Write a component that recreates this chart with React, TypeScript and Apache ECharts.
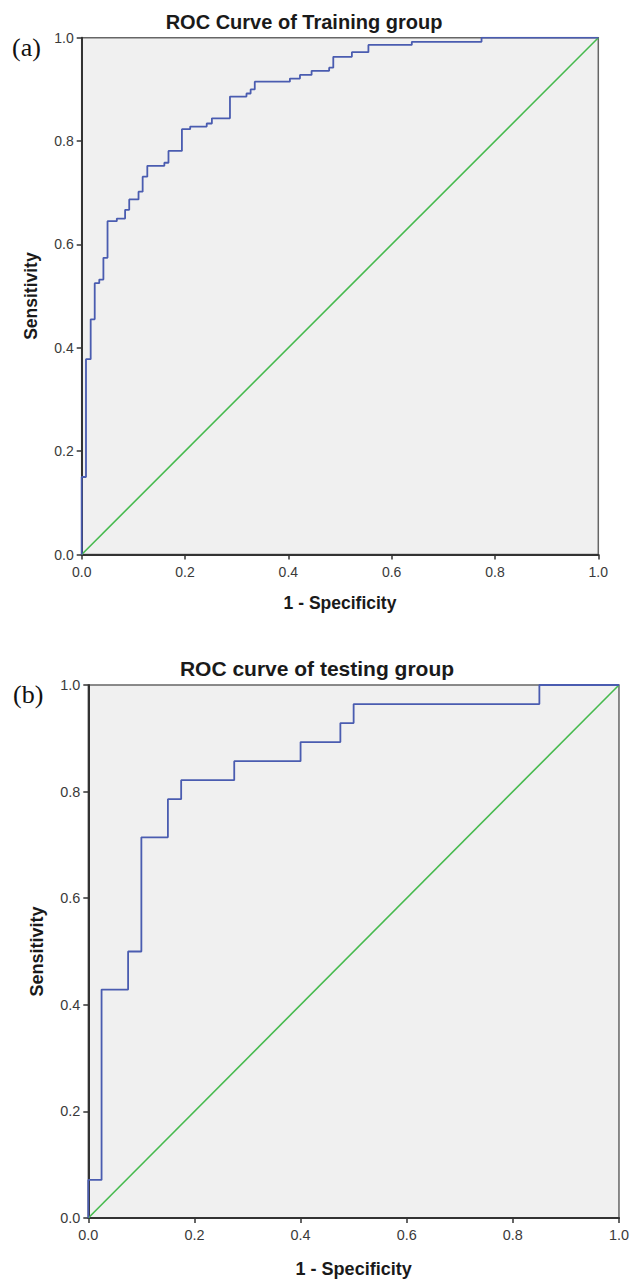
import React, { useEffect, useRef } from 'react';
import * as echarts from 'echarts';

// ---------- data ----------
const AXIS_MIN = 0;
const AXIS_MAX = 1;
const AXIS_STEP = 0.2;

const TITLE_TRAIN = 'ROC Curve of Training group';
const TITLE_TEST = 'ROC curve of testing group';
const PANEL_A = '(a)';
const PANEL_B = '(b)';
const X_NAME = '1 - Specificity';
const Y_NAME = 'Sensitivity';

// Training group ROC (top of each vertical step, drawn with step: 'end')
const TRAIN_FPR = [0, 0, 0.0083, 0.0174, 0.0252, 0.034, 0.042, 0.05, 0.068, 0.084, 0.092, 0.11, 0.118, 0.127, 0.16, 0.168, 0.194, 0.21, 0.242, 0.252, 0.287, 0.319, 0.327, 0.335, 0.403, 0.4225, 0.445, 0.479, 0.487, 0.523, 0.555, 0.639, 0.774, 1.0];
const TRAIN_TPR = [0, 0.15, 0.378, 0.455, 0.525, 0.532, 0.574, 0.645, 0.65, 0.667, 0.687, 0.702, 0.731, 0.752, 0.758, 0.781, 0.823, 0.828, 0.834, 0.844, 0.886, 0.892, 0.9, 0.915, 0.921, 0.928, 0.936, 0.942, 0.963, 0.972, 0.986, 0.992, 1.0, 1.0];

// Testing group ROC
const TEST_FPR = [0, 0, 0.025, 0.075, 0.1, 0.15, 0.175, 0.275, 0.4, 0.475, 0.5, 0.85, 1.0];
const TEST_TPR = [0, 0.0714, 0.4286, 0.5, 0.7143, 0.7857, 0.8214, 0.8571, 0.8929, 0.9286, 0.9643, 1.0, 1.0];

// Reference (chance) line
const REF_FPR = [0, 1];
const REF_TPR = [0, 1];

const zip = (xs: number[], ys: number[]) => xs.map((x, i) => [x, ys[i]]);

const FONT = 'Liberation Sans, Arial, sans-serif';
const SERIF = 'Liberation Serif, Times New Roman, serif';
const BLUE = '#4a5cb0';
const GREEN = '#46ba4e';

function axisCommon(scale: number, name: string, gap: number, labelMargin: number) {
  return {
    type: 'value' as const,
    min: AXIS_MIN,
    max: AXIS_MAX,
    interval: AXIS_STEP,
    name,
    nameLocation: 'middle' as const,
    nameGap: gap,
    nameTextStyle: {
      fontFamily: FONT,
      fontWeight: 'bold' as const,
      fontSize: 17.5 * scale,
      color: '#1a1a1a',
    },
    axisLine: { show: true, onZero: false, lineStyle: { color: '#333', width: 2 } },
    axisTick: { show: true, inside: false, length: 5, lineStyle: { color: '#333', width: 1.5 } },
    axisLabel: {
      fontFamily: FONT,
      fontSize: 14 * scale,
      color: '#3a3a3a',
      margin: labelMargin,
      formatter: (v: number) => v.toFixed(1),
    },
    splitLine: { show: false },
  };
}

export default function App() {
  const ref = useRef<HTMLDivElement>(null);

  useEffect(() => {
    if (!ref.current) return;
    const chart = echarts.init(ref.current, undefined, { renderer: 'svg' });

    const g1 = { left: 81.7, top: 37.7, width: 516.6, height: 516.8 };
    const g2 = { left: 88.3, top: 685, width: 533.4, height: 533 };
    const s2 = 533 / 517;

    chart.setOption({
      animation: false,
      grid: [
        { ...g1, show: true, backgroundColor: '#f0f0f0', borderColor: '#666', borderWidth: 1.5, containLabel: false },
        { ...g2, show: true, backgroundColor: '#f0f0f0', borderColor: '#666', borderWidth: 1.5, containLabel: false },
      ],
      xAxis: [
        { ...axisCommon(1, X_NAME, 39, 10), gridIndex: 0 },
        { ...axisCommon(s2, X_NAME, 42, 10) , gridIndex: 1 },
      ],
      yAxis: [
        { ...axisCommon(1, Y_NAME, 42, 8), gridIndex: 0 },
        { ...axisCommon(s2, Y_NAME, 42, 8), gridIndex: 1 },
      ],
      series: [
        {
          type: 'line', xAxisIndex: 0, yAxisIndex: 0, data: zip(REF_FPR, REF_TPR),
          showSymbol: false, symbol: 'none', lineStyle: { color: GREEN, width: 1.6 }, z: 3,
        },
        {
          type: 'line', xAxisIndex: 0, yAxisIndex: 0, data: zip(TRAIN_FPR, TRAIN_TPR), step: 'end',
          showSymbol: false, symbol: 'none', lineStyle: { color: BLUE, width: 1.8 }, z: 4,
        },
        {
          type: 'line', xAxisIndex: 1, yAxisIndex: 1, data: zip(REF_FPR, REF_TPR),
          showSymbol: false, symbol: 'none', lineStyle: { color: GREEN, width: 1.6 }, z: 3,
        },
        {
          type: 'line', xAxisIndex: 1, yAxisIndex: 1, data: zip(TEST_FPR, TEST_TPR), step: 'end',
          showSymbol: false, symbol: 'none', lineStyle: { color: BLUE, width: 1.8 }, z: 4,
        },
      ],
      graphic: [
        {
          type: 'text', x: 304, y: 22,
          style: { text: TITLE_TRAIN, font: `bold 20px ${FONT}`, fill: '#1a1a1a', textAlign: 'center', textVerticalAlign: 'middle' },
        },
        {
          type: 'text', x: 317, y: 668,
          style: { text: TITLE_TEST, font: `bold 21px ${FONT}`, fill: '#1a1a1a', textAlign: 'center', textVerticalAlign: 'middle' },
        },
        {
          type: 'text', x: 12, y: 47,
          style: { text: PANEL_A, font: `26px ${SERIF}`, fill: '#111', textAlign: 'left', textVerticalAlign: 'middle' },
        },
        {
          type: 'text', x: 13, y: 694,
          style: { text: PANEL_B, font: `26px ${SERIF}`, fill: '#111', textAlign: 'left', textVerticalAlign: 'middle' },
        },
      ],
    });

    return () => chart.dispose();
  }, []);

  return (
    <div
      ref={ref}
      style={{ position: 'absolute', left: 0, top: 0, width: 632, height: 1281, background: '#fff' }}
    />
  );
}
